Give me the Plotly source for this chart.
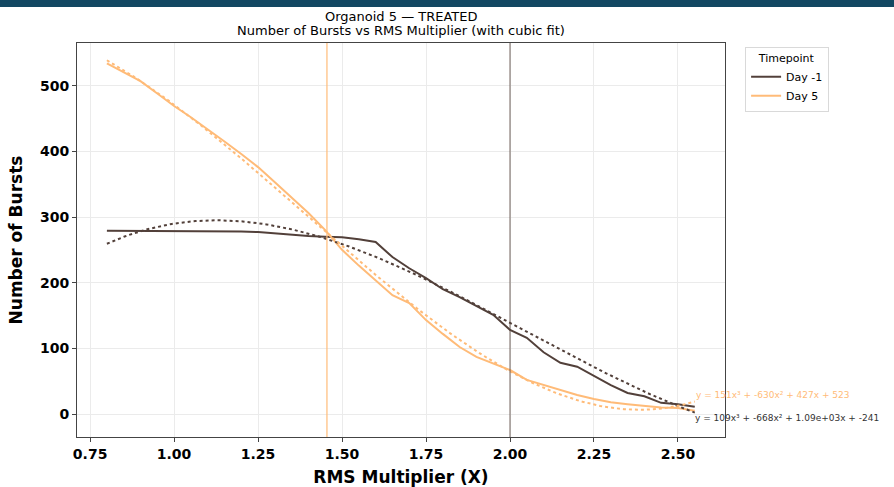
import numpy as np
import plotly.graph_objects as go

# RMS multiplier values (x)
rms_x = [0.80, 0.85, 0.90, 0.95, 1.00, 1.05, 1.10, 1.15, 1.20, 1.25, 1.30, 1.35,
         1.40, 1.45, 1.50, 1.55, 1.60, 1.65, 1.70, 1.75, 1.80, 1.85, 1.90, 1.95,
         2.00, 2.05, 2.10, 2.15, 2.20, 2.25, 2.30, 2.35, 2.40, 2.45, 2.50, 2.55]

# Number of bursts, Day -1
day_m1 = [279, 279, 279, 279, 279, 279, 279, 279, 278, 277, 275, 272,
          271, 270, 269, 266, 262, 239, 222, 207, 190, 178, 165, 151,
          128, 116, 94, 78, 72, 58, 44, 32, 27, 17, 15, 11]

# Number of bursts, Day 5
day_5 = [534, 520, 507, 488, 469, 452, 434, 415, 396, 376, 353, 330,
         306, 280, 250, 226, 204, 181, 169, 143, 122, 102, 87, 77,
         67, 52, 44, 36, 29, 23, 18, 15, 12, 10, 9, 5]

# cubic fit coefficients as displayed (highest power first)
fit_m1 = [109, -668, 1090, -241]
fit_5 = [151, -630, 427, 523]
fit_m1_label = "y = 109x³ + -668x² + 1.09e+03x + -241"
fit_5_label = "y = 151x³ + -630x² + 427x + 523"

# threshold markers (vertical lines)
vline_5 = 1.455
vline_m1 = 2.00

series_names = ["Day -1", "Day 5"]
title_lines = ["Organoid 5 — TREATED", "Number of Bursts vs RMS Multiplier (with cubic fit)"]
c_m1 = "#52403a"
c_5 = "#ffbb78"

W, H = 894, 487
ML, MR, MT, MB = 77, 169, 43, 50
PH = H - MT - MB

xs = np.array(rms_x)
xfine = np.linspace(xs.min(), xs.max(), 200)

fig = go.Figure()
fig.add_trace(go.Scatter(x=rms_x, y=day_m1, mode="lines", name=series_names[0],
                         line=dict(color=c_m1, width=2)))
fig.add_trace(go.Scatter(x=rms_x, y=day_5, mode="lines", name=series_names[1],
                         line=dict(color=c_5, width=2)))
fig.add_trace(go.Scatter(x=xfine, y=np.polyval(fit_m1, xfine), mode="lines",
                         line=dict(color=c_m1, width=2, dash="dot"), showlegend=False))
fig.add_trace(go.Scatter(x=xfine, y=np.polyval(fit_5, xfine), mode="lines",
                         line=dict(color=c_5, width=2, dash="dot"), showlegend=False))

fig.add_shape(type="line", xref="x", yref="paper", x0=vline_5, x1=vline_5, y0=0, y1=1,
              line=dict(color="rgba(255,187,120,0.8)", width=1.5))
fig.add_shape(type="line", xref="x", yref="paper", x0=vline_m1, x1=vline_m1, y0=0, y1=1,
              line=dict(color="rgba(84,65,58,0.55)", width=1.5))

# top band of the page
fig.add_shape(type="rect", xref="paper", yref="paper", x0=-0.2, x1=1.4,
              y0=1 + (MT - 7) / PH, y1=1 + (MT + 2) / PH,
              fillcolor="#134862", line=dict(width=0), layer="above")

# two-line title
for txt, ypx in zip(title_lines, [17, 31]):
    fig.add_annotation(x=0.5, y=1 + (MT - ypx) / PH, xref="paper", yref="paper",
                       text=txt, showarrow=False, xanchor="center", yanchor="middle",
                       font=dict(family="DejaVu Sans", size=13, color="black"))

xe = xs.max()
fig.add_annotation(x=xe, y=np.polyval(fit_5, xe), xref="x", yref="y", text=fit_5_label,
                   showarrow=False, xanchor="left", yanchor="middle", yshift=7, xshift=-1,
                   font=dict(family="DejaVu Sans", size=9, color=c_5))
fig.add_annotation(x=xe, y=np.polyval(fit_m1, xe), xref="x", yref="y", text=fit_m1_label,
                   showarrow=False, xanchor="left", yanchor="middle", yshift=-5, xshift=-2,
                   font=dict(family="DejaVu Sans", size=9, color="#333333"))

fig.update_layout(
    width=W, height=H,
    margin=dict(l=ML, r=MR, t=MT, b=MB),
    paper_bgcolor="white", plot_bgcolor="white",
    font=dict(family="DejaVu Sans", color="black"),
    legend=dict(x=1.031, y=0.99, xanchor="left", yanchor="top",
                bordercolor="#d9d9d9", borderwidth=1, bgcolor="white",
                title=dict(text="Timepoint", side="top center", font=dict(size=11)),
                font=dict(size=11), tracegroupgap=0),
    showlegend=True,
)
fig.update_xaxes(range=[0.711, 2.64], tickvals=[0.75, 1.0, 1.25, 1.5, 1.75, 2.0, 2.25, 2.5],
                 ticktext=["0.75", "1.00", "1.25", "1.50", "1.75", "2.00", "2.25", "2.50"],
                 showgrid=True, gridcolor="#ebebeb", gridwidth=1, zeroline=False,
                 showline=True, linecolor="#444", linewidth=1, mirror=True,
                 ticks="outside", ticklen=4, tickcolor="#444", automargin=False,
                 tickfont=dict(size=14, family="DejaVu Sans", weight="bold"),
                 title=dict(text="<b>RMS Multiplier (X)</b>", font=dict(size=17), standoff=10))
fig.update_yaxes(range=[-35, 565], tickvals=[0, 100, 200, 300, 400, 500],
                 showgrid=True, gridcolor="#ebebeb", gridwidth=1, zeroline=False,
                 showline=True, linecolor="#444", linewidth=1, mirror=True,
                 ticks="outside", ticklen=4, tickcolor="#444", automargin=False,
                 tickfont=dict(size=14, family="DejaVu Sans", weight="bold"),
                 title=dict(text="<b>Number of Bursts</b>", font=dict(size=17), standoff=13))

fig.write_html("out.html", config={"displayModeBar": False},
               post_script="document.body.style.margin='0';")
